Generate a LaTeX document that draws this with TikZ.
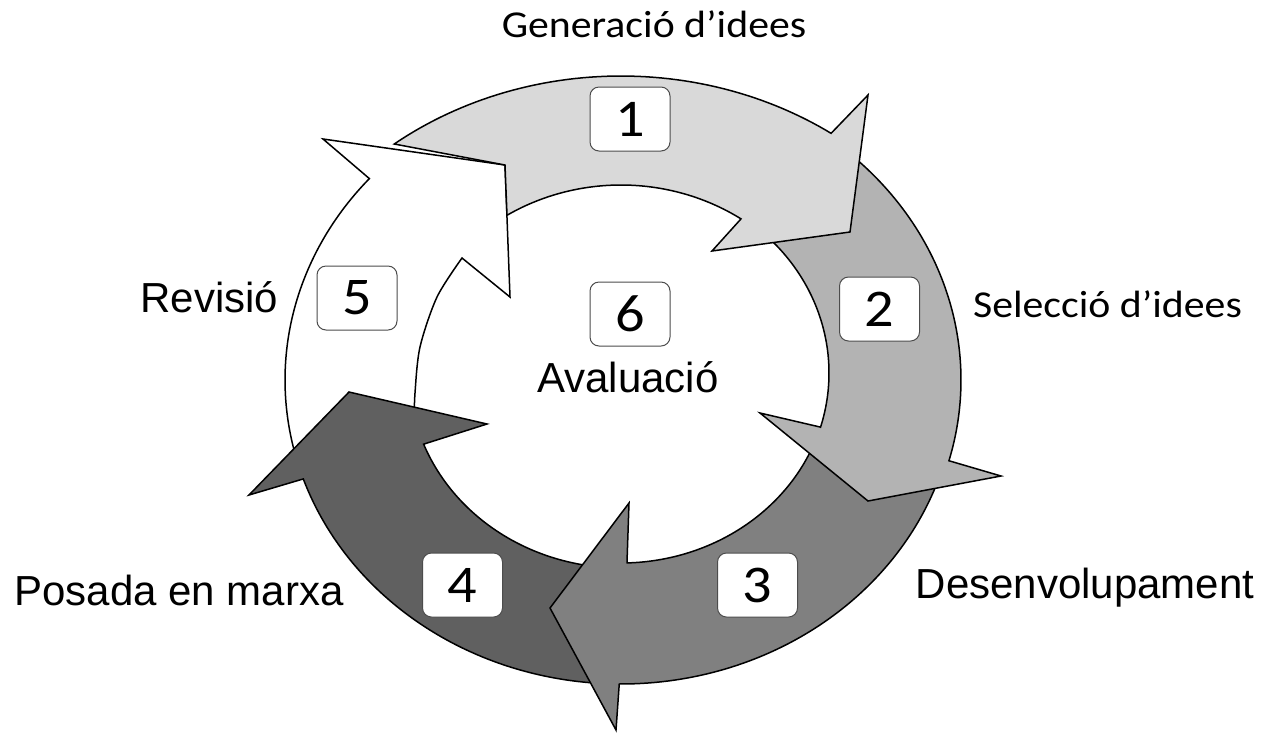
\documentclass[tikz,border=0pt]{standalone}
\usepackage{fontspec}
\setmainfont{Liberation Sans}
\newfontfamily\calfont[FakeStretch=1.1]{Carlito}
\definecolor{cA}{HTML}{D9D9D9}
\definecolor{cB}{HTML}{B3B3B3}
\definecolor{cC}{HTML}{808080}
\definecolor{cD}{HTML}{606060}
\tikzset{
  arrowshape/.style={draw=black, line width=1.5pt, line join=miter},
  numbox/.style={draw=black!70, fill=white, rounded corners=9pt, minimum width=80pt, minimum height=64pt, line width=1pt, inner sep=0pt, font=\calfont\fontsize{53}{53}\selectfont},
  lbl/.style={anchor=base, inner sep=0pt, font=\fontsize{42}{42}\selectfont},
  clbl/.style={anchor=base, inner sep=0pt, font=\calfont\fontsize{38}{38}\selectfont}
}
\begin{document}
\begin{tikzpicture}[x=1pt,y=-1pt]
\useasboundingbox (0,0) rectangle (1265,732);
% arrow 5 (white)
\filldraw[arrowshape, fill=white]
  plot[domain=165:221.5, samples=60, variable=\t] ({621+336*cos(\t)}, {380+304*sin(\t)})
  -- (323,139) -- (505,165) -- (510,297) -- (462,258)
  -- plot[smooth] coordinates {(462,258) (437,297) (420,347) (415,393) (414,425)}
  -- cycle;
% arrow 4
\filldraw[arrowshape, fill=cD]
  plot[domain=85:158.6, samples=60, variable=\t] ({621+212*cos(\t)}, {373+195*sin(\t)})
  -- (487,424) -- (349,392) -- (249,495) -- (303,479)
  -- plot[domain=161:94, samples=60, variable=\t] ({621+336*cos(\t)}, {380+304*sin(\t)})
  -- cycle;
% arrow 3
\filldraw[arrowshape, fill=cC]
  plot[domain=19:90.3, samples=60, variable=\t] ({621+336*cos(\t)}, {380+304*sin(\t)})
  -- (616,730) -- (550,608) -- (629,503) -- (627,562)
  -- plot[domain=88.3:24, samples=60, variable=\t] ({621+208*cos(\t)}, {373+190*sin(\t)})
  -- cycle;
% arrow 2
\filldraw[arrowshape, fill=cB]
  plot[domain=-46.7:15.3, samples=60, variable=\t] ({621+340*cos(\t)}, {380+306*sin(\t)})
  -- (1001,476) -- (868,501) -- (760,413) -- (820,427)
  -- plot[domain=16.4:-46, samples=60, variable=\t] ({621+208*cos(\t)}, {373+192*sin(\t)})
  -- cycle;
% arrow 1
\filldraw[arrowshape, fill=cA]
  plot[domain=-55.4:-127.8, samples=60, variable=\t] ({621+370*cos(\t)}, {400+324*sin(\t)})
  -- (505,165) -- (507,215)
  -- plot[domain=-121.5:-56.6, samples=60, variable=\t] ({621+218*cos(\t)}, {390+205*sin(\t)})
  -- (712,251) -- (850,232) -- (868,95) -- cycle;
% number boxes
\node[numbox] (b1) at (630,119) {1};
\node[numbox] (b2) at (879.5,309) {2};
\node[numbox] (b3) at (757.5,585) {3};
\node[numbox] (b4) at (462.5,585) {4};
\node[numbox] (b5) at (357,298) {5};
\node[numbox] (b6) at (630,314) {6};
% labels
\node[clbl] (gen) at (654,37) {Generació d’idees};
\node[clbl] (sel) at (1107.5,317) {Selecció d’idees};
\node[lbl] (rev) at (209.5,312) {Revisió};
\node[lbl] (pos) at (179,605) {Posada en marxa};
\node[lbl] (des) at (1085,598) {Desenvolupament};
\node[lbl] (ava) at (628,392) {Avaluació};
\end{tikzpicture}
\end{document}
